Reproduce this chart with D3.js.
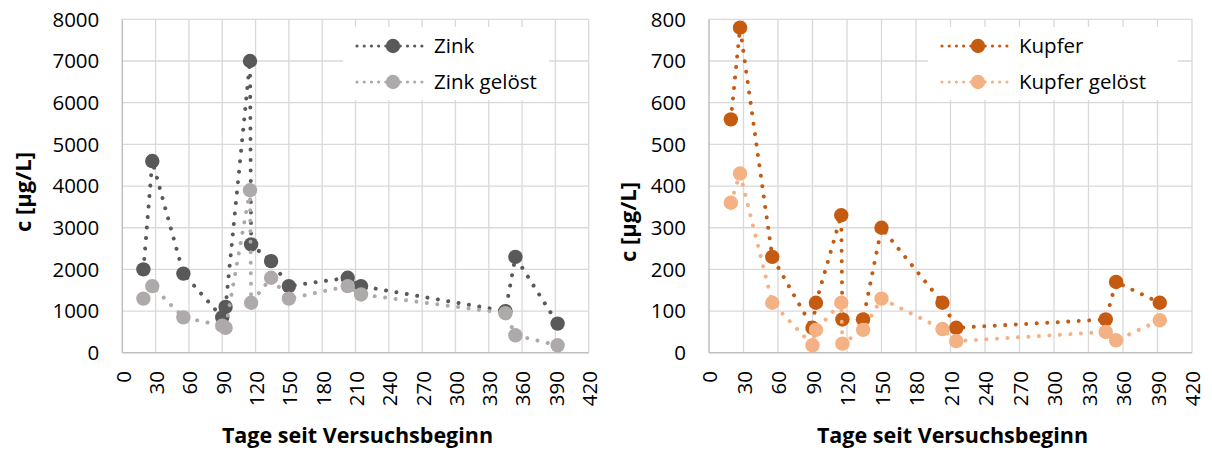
<!DOCTYPE html>
<html>
<head>
<meta charset="utf-8">
<script src="https://cdn.jsdelivr.net/npm/d3@7"></script>
<style>
  body { margin: 0; background: #fff; }
  svg { display: block; font-family: "Open Sans", sans-serif; }
</style>
</head>
<body>
<div id="chart"></div>
<script>
// Tage seit Versuchsbeginn (shared sampling days)
var days = [19, 27, 55, 90, 93, 115, 116, 134, 150, 203, 215, 345, 354, 392];

var zink        = [2000, 4600, 1900, 850, 1100, 7000, 2600, 2200, 1600, 1800, 1600, 1000, 2300, 700];
var zinkGeloest = [1300, 1600, 850, 650, 600, 3900, 1200, 1800, 1300, 1600, 1400, 950, 420, 180];

var kupfer        = [560, 780, 230, 60, 120, 330, 80, 80, 300, 120, 60, 80, 170, 120];
var kupferGeloest = [360, 430, 120, 18, 55, 120, 22, 55, 130, 57, 28, 50, 30, 78];

var xTicks = d3.range(0, 421, 30);
var zinkTicks = d3.range(0, 8001, 1000);
var kupferTicks = d3.range(0, 801, 100);

var svg = d3.select("#chart").append("svg")
    .attr("width", 1212)
    .attr("height", 453);

var panels = [
  {left: 122.3, right: 588.7, ymax: 8000, yTicks: zinkTicks, titleX: 23, titleY: 192,
   legend: {x0: 343, x1: 549},
   series: [
     {name: "Zink", values: zink, color: "#595959"},
     {name: "Zink gelöst", values: zinkGeloest, color: "#AEAAAA"}
   ]},
  {left: 709, right: 1192, ymax: 800, yTicks: kupferTicks, titleX: 628, titleY: 222,
   legend: {x0: 928, x1: 1178},
   series: [
     {name: "Kupfer", values: kupfer, color: "#C55A11"},
     {name: "Kupfer gelöst", values: kupferGeloest, color: "#F4B183"}
   ]}
];

var plotTop = 19.3, plotBottom = 352.8;

panels.forEach(function(p) {
  var x = d3.scaleLinear().domain([0, 420]).range([p.left, p.right]),
      y = d3.scaleLinear().domain([0, p.ymax]).range([plotBottom, plotTop]);

  var g = svg.append("g");

  // grid
  g.selectAll(".vgrid").data(xTicks.slice(1)).enter().append("line")
      .attr("x1", function(d) { return x(d); }).attr("x2", function(d) { return x(d); })
      .attr("y1", plotTop).attr("y2", plotBottom)
      .attr("stroke", "#D9D9D9").attr("stroke-width", 1.3);
  g.selectAll(".hgrid").data(p.yTicks.slice(1)).enter().append("line")
      .attr("x1", p.left).attr("x2", p.right)
      .attr("y1", function(d) { return y(d); }).attr("y2", function(d) { return y(d); })
      .attr("stroke", "#D9D9D9").attr("stroke-width", 1.3);

  // axis lines
  g.append("line").attr("x1", p.left).attr("x2", p.left).attr("y1", plotTop).attr("y2", plotBottom)
      .attr("stroke", "#BFBFBF").attr("stroke-width", 1.5);
  g.append("line").attr("x1", p.left).attr("x2", p.right).attr("y1", plotBottom).attr("y2", plotBottom)
      .attr("stroke", "#BFBFBF").attr("stroke-width", 1.5);

  // y tick labels
  g.selectAll(".ylab").data(p.yTicks).enter().append("text")
      .attr("x", p.left - 23)
      .attr("y", function(d) { return y(d); })
      .attr("dy", "0.36em")
      .attr("text-anchor", "end")
      .style("font-size", "20.5px")
      .attr("fill", "#000")
      .text(function(d) { return d; });

  // x tick labels (rotated)
  g.selectAll(".xlab").data(xTicks).enter().append("text")
      .attr("transform", function(d) { return "translate(" + (x(d) + 1) + "," + 371 + ") rotate(-90)"; })
      .attr("dy", "0.36em")
      .attr("text-anchor", "end")
      .style("font-size", "20.5px")
      .attr("fill", "#000")
      .text(function(d) { return d; });

  // axis titles
  g.append("text")
      .attr("transform", "translate(" + p.titleX + "," + p.titleY + ") rotate(-90)")
      .attr("dy", "0.36em")
      .attr("text-anchor", "middle")
      .style("font-size", "22px").style("font-weight", "bold")
      .text("c [µg/L]");
  g.append("text")
      .attr("x", (p.left + p.right) / 2 + 2)
      .attr("y", 443)
      .attr("text-anchor", "middle")
      .style("font-size", "21.5px").style("font-weight", "bold")
      .text("Tage seit Versuchsbeginn");

  var line = d3.line()
      .x(function(d, i) { return x(days[i]); })
      .y(function(d) { return y(d); });

  p.series.forEach(function(s) {
    g.append("path")
        .attr("d", line(s.values))
        .attr("fill", "none")
        .attr("stroke", s.color)
        .attr("stroke-width", 4)
        .attr("stroke-linecap", "round")
        .attr("stroke-dasharray", "0.01 10.5");
    g.selectAll(null).data(s.values).enter().append("circle")
        .attr("cx", function(d, i) { return x(days[i]); })
        .attr("cy", function(d) { return y(d); })
        .attr("r", 7.2)
        .attr("fill", s.color);
  });

  // legend
  var lg = g.append("g");
  lg.append("rect")
      .attr("x", p.legend.x0).attr("y", 27)
      .attr("width", p.legend.x1 - p.legend.x0).attr("height", 73)
      .attr("fill", "#fff");
  p.series.forEach(function(s, i) {
    var ly = 46 + i * 36, lx = p.legend.x0 + 14;
    lg.append("line")
        .attr("x1", lx).attr("x2", lx + 70)
        .attr("y1", ly).attr("y2", ly)
        .attr("stroke", s.color)
        .attr("stroke-width", 3.2)
        .attr("stroke-linecap", "round")
        .attr("stroke-dasharray", "0.01 7.2");
    lg.append("circle")
        .attr("cx", lx + 36).attr("cy", ly).attr("r", 7.2)
        .attr("fill", s.color);
    lg.append("text")
        .attr("x", lx + 77).attr("y", ly)
        .attr("dy", "0.36em")
        .style("font-size", "20.5px")
        .attr("fill", "#000")
        .text(s.name);
  });
});
</script>
</body>
</html>
